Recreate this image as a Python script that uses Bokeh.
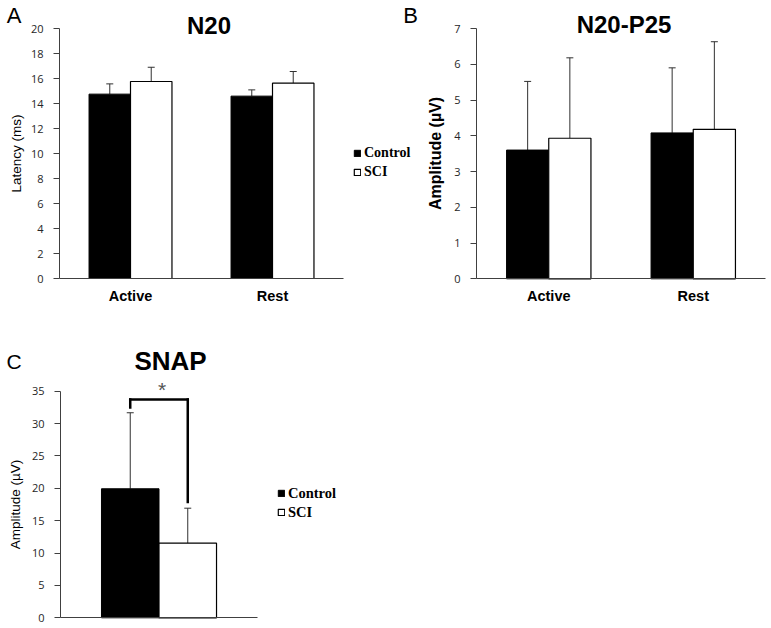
from bokeh.plotting import figure
from bokeh.models import (Range1d, ColumnDataSource, Whisker, TeeHead,
                          Legend, LegendItem, Label, FixedTicker)
from bokeh.layouts import column, row
from bokeh.embed import file_html
from bokeh.resources import INLINE
from bokeh.core.properties import value

# ---------------- data ----------------
conditions = ["Active", "Rest"]
group_names = ["Control", "SCI"]

n20_control = [14.75, 14.59]
n20_control_err = [0.82, 0.50]
n20_sci = [15.76, 15.63]
n20_sci_err = [1.14, 0.93]

p25_control = [3.60, 4.08]
p25_control_err = [1.92, 1.82]
p25_sci = [3.93, 4.18]
p25_sci_err = [2.25, 2.45]

snap_category = ["SNAP"]
snap_control = [19.93]
snap_control_err = [11.74]
snap_sci = [11.52]
snap_sci_err = [5.41]

n20_ticks = [0, 2, 4, 6, 8, 10, 12, 14, 16, 18, 20]
p25_ticks = [0, 1, 2, 3, 4, 5, 6, 7]
snap_ticks = [0, 5, 10, 15, 20, 25, 30, 35]

# significance bracket (SNAP, Control vs SCI)
sig_top = 33.7
sig_left_end = 32.5
sig_right_end = 17.9
sig_star_y = 35.3
sig_text = "*"

# ---------------- style / layout ----------------
AXIS = "#404040"
TICK_FONT = "Open Sans"
SANS = "Liberation Sans"
SERIF = "Liberation Serif"
OFF = 0.146   # half distance between the two bars of a group (category units)
BW = 0.292    # bar width (category units)


def span(d0, d1, p0, p1, size):
    """data range that puts d0 at pixel p0 and d1 at pixel p1 on a canvas of `size` px"""
    k = (p1 - p0) / (d1 - d0)
    a = d0 + (0 - p0) / k
    b = d0 + (size - p0) / k
    return Range1d(min(a, b), max(a, b))


def base_fig(cats, ymax, width, height, xpix, ypix):
    ncat = len(cats)
    p = figure(x_range=span(0, ncat, xpix[0], xpix[1], width),
               y_range=span(0, ymax, ypix[0], ypix[1], height),
               width=width, height=height, min_border=0, title=None,
               output_backend="svg", toolbar_location=None, tools="")
    p.outline_line_color = None
    p.xgrid.visible = False
    p.ygrid.visible = False
    p.border_fill_color = "white"
    p.background_fill_color = "white"
    # y axis
    p.yaxis.fixed_location = 0
    p.yaxis.bounds = (0, ymax)
    p.yaxis.axis_line_color = AXIS
    p.yaxis.major_tick_line_color = AXIS
    p.yaxis.major_tick_in = 0
    p.yaxis.major_tick_out = 6
    p.yaxis.minor_tick_line_color = None
    p.yaxis.major_label_text_font = TICK_FONT
    p.yaxis.major_label_text_font_size = "11px"
    p.yaxis.major_label_text_color = "#262626"
    p.yaxis.major_label_standoff = 10
    p.yaxis.axis_label_text_font = SANS
    p.yaxis.axis_label_text_color = "black"
    # x axis (categories at the middle of each unit)
    centers = [i + 0.5 for i in range(ncat)]
    p.xaxis.fixed_location = 0
    p.xaxis.bounds = (0, ncat)
    p.xaxis.axis_line_color = AXIS
    p.xaxis.major_tick_line_color = None
    p.xaxis.major_tick_in = 0
    p.xaxis.major_tick_out = 0
    p.xaxis.minor_tick_line_color = None
    p.xaxis.major_label_text_font = SANS
    p.xaxis.major_label_text_font_style = "bold"
    p.xaxis.major_label_text_font_size = "14.5px"
    p.xaxis.major_label_text_color = "black"
    p.xaxis.major_label_standoff = 9
    p.xaxis.ticker = FixedTicker(ticks=centers)
    p.xaxis.major_label_overrides = {c: t for c, t in zip(centers, cats)}
    return p, centers


def add_bars(p, centers, ctrl, ctrl_err, sci, sci_err):
    src = ColumnDataSource(dict(
        xc=[c - OFF for c in centers], xs=[c + OFF for c in centers],
        ctrl=ctrl, sci=sci,
        ctrl_hi=[v + e for v, e in zip(ctrl, ctrl_err)],
        sci_hi=[v + e for v, e in zip(sci, sci_err)],
    ))
    r1 = p.vbar(x="xc", top="ctrl", width=BW, bottom=0, source=src,
                fill_color="black", line_color="black", line_width=1)
    r2 = p.vbar(x="xs", top="sci", width=BW, bottom=0, source=src,
                fill_color="white", line_color="black", line_width=1.2)
    for base, col, lo in (("xc", "ctrl_hi", "ctrl"), ("xs", "sci_hi", "sci")):
        p.add_layout(Whisker(base=base, upper=col, lower=lo, source=src,
                             dimension="height", line_color="#303030", line_width=1,
                             upper_head=TeeHead(size=7, line_color="#303030", line_width=1),
                             lower_head=None))
    return r1, r2, src


def add_legend(p, r1, r2, loc, size):
    lg = Legend(items=[LegendItem(label=group_names[0], renderers=[r1]),
                       LegendItem(label=group_names[1], renderers=[r2])],
                location=loc, orientation="vertical",
                glyph_width=8, glyph_height=8, label_standoff=3,
                label_height=19, spacing=0, padding=0, margin=0,
                border_line_color=None, background_fill_alpha=0,
                label_text_font=SERIF, label_text_font_style="bold",
                label_text_font_size=size, label_text_color="black")
    p.add_layout(lg)


def label(p, H, x, y_bottom, text, size, bold=False, font=SANS):
    """text whose glyph bottom sits at y_bottom pixels from the canvas top"""
    p.add_layout(Label(x=x, y=H - y_bottom + 0.42 * size, x_units="screen", y_units="screen",
                       text=text, text_font=font, text_font_size=f"{size}px",
                       text_font_style="bold" if bold else "normal",
                       text_align="center", text_baseline="alphabetic", text_color="black"))


# ---------------- panel A : N20 latency ----------------
WA, HA = 422, 310
pA, cA = base_fig(conditions, n20_ticks[-1], WA, HA, (59, 343), (278, 28))
pA.yaxis.ticker = FixedTicker(ticks=n20_ticks)
pA.yaxis.axis_label = "Latency (ms)"
pA.yaxis.axis_label_text_font_size = "13.5px"
pA.yaxis.axis_label_text_font_style = "normal"
pA.yaxis.axis_label_standoff = 4
a1, a2, _ = add_bars(pA, cA, n20_control, n20_control_err, n20_sci, n20_sci_err)
add_legend(pA, a1, a2, (353, HA - 181.5), "14px")
label(pA, HA, 13.5, 24, "A", 22)
label(pA, HA, 208.5, 35, "N20", 24, bold=True)
label(pA, HA, 410, 24, "B", 22)

# ---------------- panel B : N20-P25 amplitude ----------------
WB, HB = 348, 310
pB, cB = base_fig(conditions, p25_ticks[-1], WB, HB, (54, 343), (278.3, 28))
pB.yaxis.ticker = FixedTicker(ticks=p25_ticks)
pB.yaxis.axis_label = "Amplitude (µV)"
pB.yaxis.axis_label_text_font_size = "16px"
pB.yaxis.axis_label_text_font_style = "bold"
pB.yaxis.axis_label_standoff = 7
add_bars(pB, cB, p25_control, p25_control_err, p25_sci, p25_sci_err)
label(pB, HB, 201.5, 34.3, "N20-P25", 24, bold=True)

# ---------------- panel C : SNAP amplitude ----------------
WC, HC = 416, 317
pC, cC = base_fig(snap_category, snap_ticks[-1], WC, HC, (60, 257), (307.3, 80.7))
pC.yaxis.ticker = FixedTicker(ticks=snap_ticks)
pC.yaxis.axis_label = "Amplitude (µV)"
pC.yaxis.axis_label_text_font_size = "13.5px"
pC.yaxis.axis_label_text_font_style = "normal"
pC.yaxis.axis_label_standoff = 6
pC.xaxis.ticker = FixedTicker(ticks=[])
c1, c2, csrc = add_bars(pC, cC, snap_control, snap_control_err, snap_sci, snap_sci_err)
add_legend(pC, c1, c2, (277, HC - 211.5), "14.5px")

# significance bracket: left leg, top bar, right leg
xl = [c - OFF for c in cC]
xr = [c + OFF for c in cC]
bsrc = ColumnDataSource(dict(
    x0=[xl[0], xl[0], xr[0]], x1=[xl[0], xr[0], xr[0]],
    y0=[sig_left_end, sig_top, sig_top], y1=[sig_top, sig_top, sig_right_end],
))
pC.segment(x0="x0", y0="y0", x1="x1", y1="y1", source=bsrc,
           line_color="black", line_width=2.5, line_cap="square")
pC.text(x=cC, y=[sig_star_y], text=[sig_text], x_offset=3,
        text_font=value(SANS), text_font_size="21px", text_color="#555555",
        text_align="center", text_baseline="middle")
label(pC, HC, 13.5, 60, "C", 21)
label(pC, HC, 170, 61.7, "SNAP", 26, bold=True)

layout = column(row(pA, pB), pC)
open("out.html", "w").write(file_html(layout, INLINE))
